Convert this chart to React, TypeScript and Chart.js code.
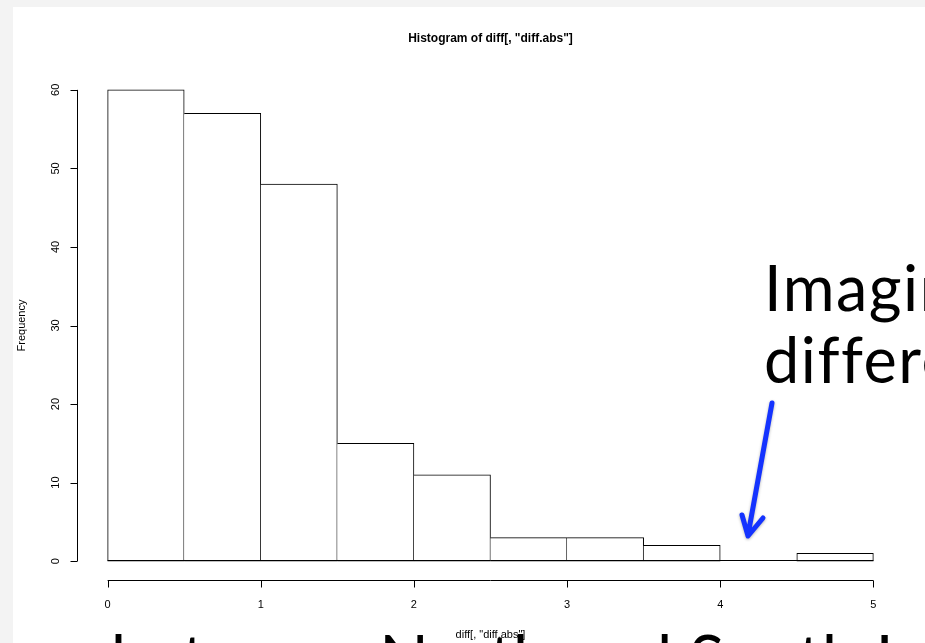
import { useEffect, useRef } from "react";
import { Chart, registerables } from "chart.js";

Chart.register(...registerables);

// ---- data ----
const binStarts = [0, 0.5, 1, 1.5, 2, 2.5, 3, 3.5, 4, 4.5];
const binWidth = 0.5;
const counts = [60, 57, 48, 15, 11, 3, 3, 2, 0, 1];
const xTicks = [0, 1, 2, 3, 4, 5];
const yTicks = [0, 10, 20, 30, 40, 50, 60];
const titleText = 'Histogram of diff[, "diff.abs"]';
const xLabel = 'diff[, "diff.abs"]';
const yLabel = "Frequency";
const overlayRight = ["Imagine no", "difference"];
const overlayBottom = "between North and South I";

const axisFont = "11px 'Liberation Sans', Arial, Helvetica, sans-serif";

const rAxesPlugin = {
  id: "rAxes",
  afterDraw(chart: any) {
    const ctx: any = chart.ctx;
    const xs = chart.scales.x;
    const ys = chart.scales.y;
    const area = chart.chartArea;
    ctx.save();
    ctx.strokeStyle = "#000";
    ctx.fillStyle = "#000";
    ctx.lineWidth = 1;

    // baseline under bins (zero-count bins drawn as flat rects)
    const y0 = Math.round(ys.getPixelForValue(0)) - 0.5;
    ctx.beginPath();
    ctx.moveTo(xs.getPixelForValue(binStarts[0]), y0);
    ctx.lineTo(xs.getPixelForValue(binStarts[binStarts.length - 1] + binWidth), y0);
    ctx.stroke();

    // x axis
    const xa = Math.round(area.bottom) + 0.5;
    ctx.beginPath();
    ctx.moveTo(xs.getPixelForValue(xTicks[0]), xa);
    ctx.lineTo(xs.getPixelForValue(xTicks[xTicks.length - 1]), xa);
    for (const t of xTicks) {
      const px = Math.round(xs.getPixelForValue(t)) + 0.5;
      ctx.moveTo(px, xa);
      ctx.lineTo(px, xa + 7);
    }
    ctx.stroke();
    ctx.font = axisFont;
    ctx.textAlign = "center";
    ctx.textBaseline = "middle";
    for (const t of xTicks) {
      ctx.fillText(String(t), xs.getPixelForValue(t), xa + 24);
    }

    // y axis
    const yaX = Math.round(area.left) + 0.5;
    ctx.beginPath();
    ctx.moveTo(yaX, ys.getPixelForValue(yTicks[0]));
    ctx.lineTo(yaX, ys.getPixelForValue(yTicks[yTicks.length - 1]));
    for (const t of yTicks) {
      const py = Math.round(ys.getPixelForValue(t)) + 0.5;
      ctx.moveTo(yaX, py);
      ctx.lineTo(yaX - 7, py);
    }
    ctx.stroke();
    for (const t of yTicks) {
      ctx.save();
      ctx.translate(yaX - 22, ys.getPixelForValue(t));
      ctx.rotate(-Math.PI / 2);
      ctx.fillText(String(t), 0, 0);
      ctx.restore();
    }

    // title
    const cx = (area.left + area.right) / 2;
    ctx.font = "bold 12px 'Liberation Sans', Arial, Helvetica, sans-serif";
    ctx.fillText(titleText, cx, 32);

    // y label
    ctx.font = axisFont;
    ctx.save();
    ctx.translate(9, (area.top + area.bottom) / 2);
    ctx.rotate(-Math.PI / 2);
    ctx.fillText(yLabel, 0, 0);
    ctx.restore();

    // x label
    ctx.fillText(xLabel, cx, area.bottom + 55);

    // slide overlay text
    ctx.textAlign = "left";
    ctx.textBaseline = "alphabetic";
    ctx.fillStyle = "#000";
    ctx.font = "400 63px Lato, 'Open Sans', sans-serif";
    ctx.letterSpacing = "1.5px";
    ctx.fillText(overlayRight[0], 751, 304);
    ctx.fillText(overlayRight[1], 751, 376);
    ctx.font = "400 65px Lato, 'Open Sans', sans-serif";
    ctx.letterSpacing = "0.3px";
    ctx.fillText(overlayBottom, 98, 675);
    ctx.letterSpacing = "0px";

    // blue arrow
    ctx.strokeStyle = "#1433ff";
    ctx.lineWidth = 5;
    ctx.lineCap = "round";
    ctx.lineJoin = "round";
    ctx.shadowColor = "rgba(0,0,0,0.3)";
    ctx.shadowBlur = 3;
    ctx.shadowOffsetY = 1;
    ctx.beginPath();
    ctx.moveTo(759, 396);
    ctx.lineTo(735, 528);
    ctx.moveTo(729, 508);
    ctx.lineTo(735, 529);
    ctx.lineTo(750, 511);
    ctx.stroke();

    ctx.restore();
  },
};

export default function App() {
  const ref = useRef<HTMLCanvasElement | null>(null);

  useEffect(() => {
    document.body.style.margin = "0";
    document.body.style.background = "#f3f3f3";
    const canvas = ref.current;
    if (!canvas) return;
    const chart = new Chart(canvas, {
      type: "bar",
      data: {
        datasets: [
          {
            data: binStarts.map((s, i) => ({ x: s + binWidth / 2, y: counts[i] })),
            backgroundColor: "#ffffff",
            borderColor: "#000000",
            borderWidth: (c: any) => {
              const i = c.dataIndex;
              return {
                top: 1,
                bottom: 1,
                right: 1,
                left: i === 0 || counts[i] > counts[i - 1] ? 1 : 0,
              };
            },
            borderSkipped: false,
            barPercentage: 1,
            categoryPercentage: 1,
          } as any,
        ],
      },
      options: {
        animation: false,
        responsive: false,
        maintainAspectRatio: false,
        layout: { padding: { left: 64, top: 64, right: 21, bottom: 63 } },
        plugins: {
          legend: { display: false },
          tooltip: { enabled: false },
          title: { display: false },
        },
        scales: {
          x: { type: "linear", min: -0.2, max: 5.2, offset: false, display: false },
          y: { type: "linear", min: -2.4, max: 62.4, display: false },
        },
      },
      plugins: [rAxesPlugin],
    });
    return () => chart.destroy();
  }, []);

  return (
    <div style={{ position: "relative", width: 925, height: 643, background: "#f3f3f3", overflow: "hidden" }}>
      <div style={{ position: "absolute", left: 13, top: 7, width: 912, height: 636, background: "#ffffff" }}>
        <canvas ref={ref} width={912} height={636} style={{ display: "block", width: 912, height: 636 }} />
      </div>
    </div>
  );
}
